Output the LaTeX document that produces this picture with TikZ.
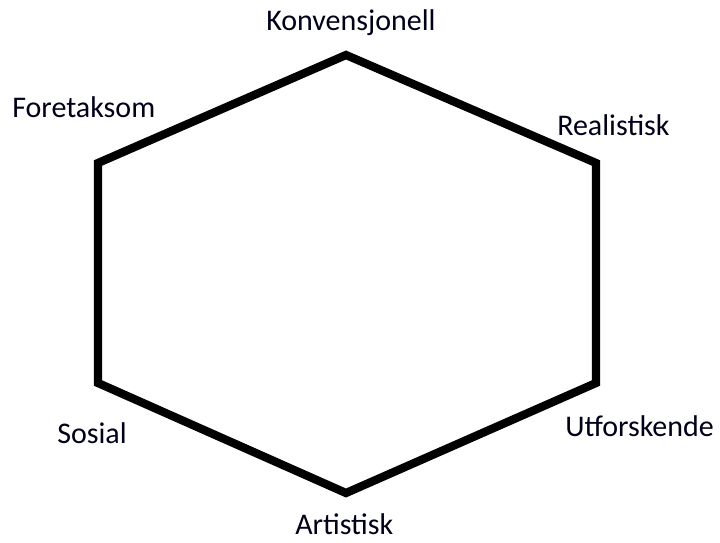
\documentclass[tikz,border=0pt]{standalone}
\usepackage{fontspec}
\setmainfont{Carlito}
\usepackage{xcolor}
\usepackage{tikz}
\usetikzlibrary{positioning, calc}

\begin{document}
\begin{tikzpicture}[
    x=0.75pt, y=-0.75pt,
    label/.style={anchor=base west, inner sep=0pt, text=black!90!blue, font=\fontsize{22.5}{27}\selectfont},
    edge/.style={line width=6.2pt, draw=black, line join=miter}
]
\useasboundingbox (0,0) rectangle (720,542);

% Corners of the hexagon
\coordinate (top) at (346, 55);
\coordinate (upright) at (596, 163);
\coordinate (lowright) at (596, 383);
\coordinate (bottom) at (346, 493);
\coordinate (lowleft) at (98, 383);
\coordinate (upleft) at (98, 163);

% Hexagon
\draw[edge] (top) -- (upright) -- (lowright) -- (bottom) -- (lowleft) -- (upleft) -- cycle;

% Labels
\node[label] (konv) at (266, 31) {Konvensjonell};
\node[label] (real) at (557, 135) {Realistisk};
\node[label] (utf) at (565, 436) {Utforskende};
\node[label] (art) at (295, 534) {Artistisk};
\node[label] (sos) at (57, 443) {Sosial};
\node[label] (fore) at (12, 117) {Foretaksom};

\end{tikzpicture}
\end{document}
